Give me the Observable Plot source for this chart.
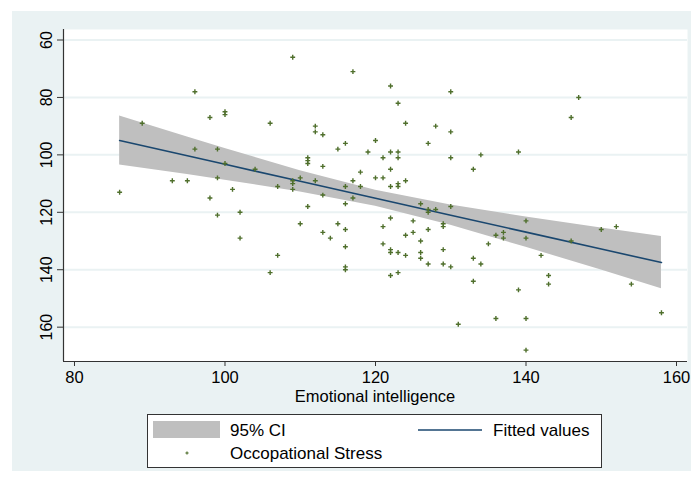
<!DOCTYPE html>
<html>
<head>
<meta charset="utf-8">
<script src="https://cdn.jsdelivr.net/npm/d3@7"></script>
<script src="https://cdn.jsdelivr.net/npm/@observablehq/plot@0.6"></script>
<style>
  html, body { margin: 0; padding: 0; background: white; }
  #wrap { position: relative; width: 691px; height: 482px; overflow: hidden; font-family: "Liberation Sans", Arial, sans-serif; }
  #bg { position: absolute; left: 12px; top: 11px; width: 679px; height: 460px; background: #eaf2f3; }
  #chart { position: absolute; left: 0; top: 0; }
  #overlay { position: absolute; left: 0; top: 0; }
</style>
</head>
<body>
<div id="wrap">
  <div id="bg"></div>
  <div id="chart"></div>
  <svg id="overlay" width="691" height="482"></svg>
</div>
<script>
// Emotional intelligence (x) and Occupational Stress (y) for each respondent
const emotionalIntelligence = [
  86, 89, 96, 98, 100, 100, 96, 99, 100, 93, 95, 99, 98, 99, 101, 102, 102, 104, 106, 107,
  107, 106, 109, 109, 109, 109, 110, 111, 111, 111, 111, 110, 112, 112, 112, 113, 113, 113, 113, 114,
  115, 115, 116, 116, 116, 116, 116, 116, 116, 117, 117, 117, 118, 118, 119, 120, 120, 121, 121, 121,
  121, 122, 122, 122, 122, 122, 122, 122, 122, 123, 123, 123, 123, 123, 123, 123, 124, 124, 124, 124,
  125, 125, 126, 126, 126, 126, 127, 127, 127, 127, 127, 128, 128, 129, 129, 129, 129, 130, 130, 130,
  130, 130, 131, 133, 133, 133, 134, 134, 135, 136, 136, 137, 137, 139, 139, 140, 140, 140, 140, 142,
  143, 143, 146, 146, 147, 150, 152, 154, 158
];
const occupationalStress = [
  113, 89, 78, 87, 85, 86, 98, 98, 103, 109, 109, 108, 115, 121, 112, 120, 129, 105, 89, 111,
  135, 141, 66, 109, 110, 112, 108, 101, 102, 103, 118, 124, 90, 92, 109, 93, 104, 114, 127, 129,
  98, 124, 96, 111, 117, 126, 132, 139, 140, 71, 109, 115, 106, 111, 99, 95, 108, 101, 108, 125,
  131, 76, 99, 105, 111, 122, 133, 134, 142, 82, 99, 101, 110, 111, 134, 141, 89, 109, 128, 135,
  123, 127, 117, 130, 134, 136, 96, 119, 120, 126, 138, 90, 119, 124, 125, 133, 138, 78, 92, 101,
  118, 139, 159, 105, 136, 144, 100, 138, 131, 128, 157, 127, 129, 99, 147, 123, 129, 157, 168, 135,
  142, 145, 87, 130, 80, 126, 125, 145, 155
];

// Fitted line and 95% CI
const fitX  = [86, 95, 100, 110, 120, 130, 140, 150, 158];
const fitY  = [95.0, 100.3, 103.3, 109.2, 115.1, 121.0, 126.9, 132.8, 137.5];
const ciLow = [86.5, 93.8, 97.8, 105.5, 112.3, 117.5, 121.6, 125.5, 128.4];
const ciHigh= [103.5, 106.8, 108.8, 112.9, 117.9, 124.5, 132.2, 140.1, 146.6];

const xTicks = [80, 100, 120, 140, 160];
const yTicks = [60, 80, 100, 120, 140, 160];

const points = emotionalIntelligence.map((x, i) => ({x, y: occupationalStress[i]}));
const fit = fitX.map((x, i) => ({x, fit: fitY[i], lo: ciLow[i], hi: ciHigh[i]}));

const xDomain = [78.54, 161.46];
const yDomain = [56.34, 171.96];

const chart = Plot.plot({
  width: 691,
  height: 482,
  marginLeft: 63,
  marginRight: 4,
  marginTop: 29,
  marginBottom: 121,
  style: {background: "transparent", fontFamily: "Liberation Sans, Arial, sans-serif", color: "#000"},
  x: {domain: xDomain},
  y: {domain: yDomain, reverse: true},
  marks: [
    Plot.frame({fill: "white", stroke: null}),
    Plot.gridY(yTicks, {stroke: "#eaf2f3", strokeOpacity: 1, strokeWidth: 2}),
    Plot.areaY(fit, {x: "x", y1: "lo", y2: "hi", fill: "#bfbfbf", fillOpacity: 1}),
    Plot.line(fit, {x: "x", y: "fit", stroke: "#1a476f", strokeWidth: 1.6}),
    Plot.dot(points, {x: "x", y: "y", symbol: "plus", r: 1.7, stroke: "#4f6f2c", strokeWidth: 1.4, fill: "none"}),
    Plot.ruleX([xDomain[0]], {stroke: "#333", strokeWidth: 1.2}),
    Plot.ruleY([yDomain[1]], {stroke: "#333", strokeWidth: 1.2}),
    Plot.axisY(yTicks, {tickSize: 6, tickRotate: -90, tickPadding: 6, fontSize: 16, stroke: "#333", label: null}),
    Plot.axisX(xTicks, {tickSize: 5, tickPadding: 5, fontSize: 16.5, stroke: "#333", label: null})
  ]
});
document.getElementById("chart").appendChild(chart);

// Axis title and legend
const ov = d3.select("#overlay");
ov.append("text").attr("x", 375).attr("y", 402).attr("text-anchor", "middle")
  .attr("font-size", 16.5).attr("font-family", "Liberation Sans, Arial, sans-serif")
  .text("Emotional intelligence");

const lg = ov.append("g").attr("font-family", "Liberation Sans, Arial, sans-serif").attr("font-size", 17);
lg.append("rect").attr("x", 147.5).attr("y", 414.5).attr("width", 454).attr("height", 53)
  .attr("fill", "white").attr("stroke", "#333").attr("stroke-width", 1);
lg.append("rect").attr("x", 153).attr("y", 421).attr("width", 67).attr("height", 17).attr("fill", "#bfbfbf");
lg.append("text").attr("x", 230).attr("y", 436).text("95% CI");
lg.append("line").attr("x1", 418).attr("x2", 482).attr("y1", 430).attr("y2", 430)
  .attr("stroke", "#1a476f").attr("stroke-width", 1.6);
lg.append("text").attr("x", 493).attr("y", 436).text("Fitted values");
lg.append("path").attr("d", d3.symbol(d3.symbolPlus, 4)())
  .attr("transform", "translate(187,453)").attr("fill", "none").attr("stroke", "#4f6f2c").attr("stroke-width", 1.2);
lg.append("text").attr("x", 230).attr("y", 459).text("Occopational Stress");
</script>
</body>
</html>
